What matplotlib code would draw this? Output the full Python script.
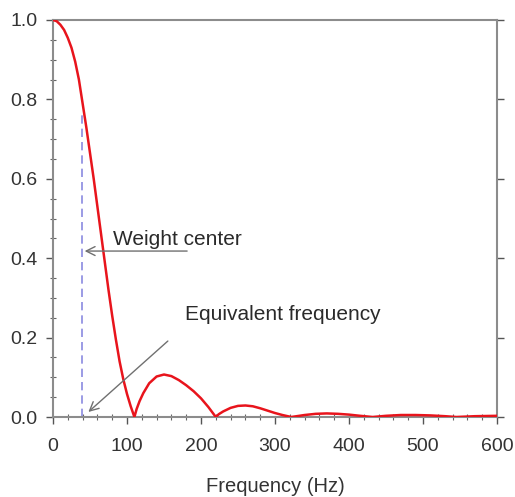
import matplotlib
matplotlib.use("Agg")
import matplotlib.pyplot as plt
from matplotlib.ticker import MultipleLocator, FormatStrFormatter

# values
freq = [0, 5, 10, 15, 20, 25, 30, 35, 40, 45, 50, 55, 60, 65, 70, 75, 80, 85, 90, 95, 100, 105, 110,
        113, 117, 122, 130, 140, 150, 160, 170, 180, 190, 200, 210, 220,
        224, 230, 240, 250, 260, 270, 280, 290, 300, 310, 322,
        340, 355, 370, 385, 400, 415, 432,
        450, 470, 490, 510, 530, 545, 570, 600]
amp = [1.0, 0.997, 0.988, 0.975, 0.955, 0.93, 0.895, 0.85, 0.79, 0.73, 0.665, 0.6, 0.53, 0.46,
       0.39, 0.32, 0.255, 0.195, 0.14, 0.095, 0.058, 0.027, 0.0,
       0.02, 0.04, 0.06, 0.085, 0.102, 0.107, 0.103, 0.093, 0.08, 0.065, 0.047, 0.025, 0.0,
       0.007, 0.014, 0.023, 0.028, 0.029, 0.027, 0.022, 0.016, 0.010, 0.005, 0.0,
       0.005, 0.008, 0.009, 0.008, 0.006, 0.003, 0.0,
       0.003, 0.005, 0.005, 0.004, 0.002, 0.0, 0.002, 0.003]

weight_center = 39
weight_center_amp = 0.77

plt.rcParams["font.family"] = ["Liberation Sans", "DejaVu Sans"]
plt.rcParams["font.size"] = 14

fig = plt.figure(figsize=(5.15, 4.97), dpi=100)
ax = fig.add_axes([53 / 515, 80 / 497, 444 / 515, 397 / 497])

ax.plot(freq, amp, color="#e8141c", lw=1.8, zorder=3)
ax.plot([weight_center, weight_center], [0, weight_center_amp], color="#8a8ae0",
        lw=1.2, ls=(0, (5, 3)), zorder=2)

arrow = dict(arrowstyle="->", color="#707070", lw=1.0, mutation_scale=16)
ax.annotate("", xy=(weight_center, 0.418), xytext=(185, 0.418), arrowprops=arrow)
ax.text(81, 0.448, "Weight center", color="#2a2a2a", va="center", fontsize=15)
ax.annotate("", xy=(45, 0.008), xytext=(158, 0.196), arrowprops=arrow)
ax.text(178, 0.258, "Equivalent frequency", color="#2a2a2a", va="center", fontsize=15)

ax.set_xlim(0, 600)
ax.set_ylim(0, 1.0)
ax.xaxis.set_major_locator(MultipleLocator(100))
ax.xaxis.set_minor_locator(MultipleLocator(20))
ax.yaxis.set_major_locator(MultipleLocator(0.2))
ax.yaxis.set_minor_locator(MultipleLocator(0.05))
ax.yaxis.set_major_formatter(FormatStrFormatter("%.1f"))

for s in ax.spines.values():
    s.set_color("#8c8c8c")
    s.set_linewidth(1.5)
ax.tick_params(which="major", direction="out", length=5, color="#555555",
               labelcolor="#333333", width=1)
ax.tick_params(which="minor", direction="inout", length=4, color="#666666", width=0.8)
ax.tick_params(axis="y", which="major", right=True, pad=6)
ax.tick_params(axis="x", which="major", pad=10)

ax.set_xlabel("Frequency (Hz)", color="#333333", labelpad=16, fontsize=14.5)

fig.savefig("out.png", dpi=100)
